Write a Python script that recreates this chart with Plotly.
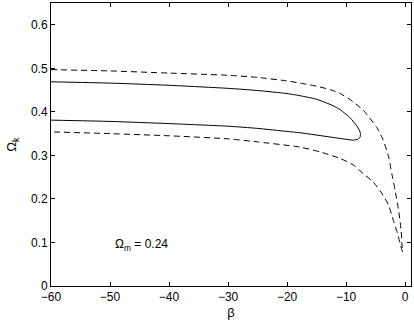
import plotly.graph_objects as go

# solid contour (closed), upper branch then back along lower branch
solid_beta = [-60, -50, -40, -30, -25, -20, -17.8, -15, -12.2, -11, -9.3, -8.2, -7.6,
              -7.6, -8.0, -8.75, -9.5, -12.1, -17.8, -20, -25, -30, -40, -50, -60]
solid_ok = [0.469, 0.466, 0.461, 0.454, 0.449, 0.442, 0.437, 0.429, 0.414, 0.405, 0.386, 0.368, 0.353,
            0.343, 0.337, 0.335, 0.336, 0.341, 0.352, 0.355, 0.362, 0.367, 0.373, 0.378, 0.381]

# dashed contour (open at the top end near beta=0)
dash_beta = [-60, -50, -40, -30, -25, -20, -17.8, -15, -12.7, -11, -9.3, -7.1, -4.8, -3.7,
             -2.8, -2.25, -1.7, -1.1, -0.68, -0.5, -0.42,
             -0.56, -0.85, -1.3, -2.0, -2.8, -3.95, -5.4, -7.1, -8.75, -11, -14.4,
             -17.8, -25, -30, -40, -50, -60]
dash_ok = [0.497, 0.494, 0.489, 0.484, 0.479, 0.471, 0.466, 0.459, 0.451, 0.442, 0.428, 0.404, 0.364, 0.335,
           0.297, 0.258, 0.220, 0.174, 0.128, 0.090, 0.078,
           0.083, 0.098, 0.121, 0.151, 0.186, 0.213, 0.239, 0.258, 0.278, 0.293, 0.308,
           0.319, 0.331, 0.338, 0.345, 0.350, 0.354]

x_ticks = [-60, -50, -40, -30, -20, -10, 0]
y_ticks = [0, 0.1, 0.2, 0.3, 0.4, 0.5, 0.6]

fig = go.Figure()
fig.add_trace(
    go.Scatter(
        x=dash_beta, y=dash_ok, mode="lines",
        line=dict(color="black", width=1, dash="6px,4px", shape="spline", smoothing=0.5),
    )
)
fig.add_trace(
    go.Scatter(
        x=solid_beta, y=solid_ok, mode="lines",
        line=dict(color="black", width=1, shape="spline", smoothing=0.5),
    )
)

fig.add_annotation(
    x=-44.7, y=0.094, text="Ω<sub>m</sub> = 0.24", showarrow=False,
    font=dict(size=12, color="black"),
)

axis_common = dict(
    showgrid=False, zeroline=False, showline=True, linecolor="black", linewidth=1,
    mirror="ticks", ticks="inside", ticklen=4, tickcolor="black",
    tickfont=dict(size=12, color="black"), automargin=False,
)
fig.update_xaxes(
    range=[-60, 1], tickvals=x_ticks, title=dict(text="β", standoff=4, font=dict(size=13)),
    **axis_common,
)
fig.update_yaxes(
    range=[0, 0.65], tickvals=y_ticks, title=dict(text="Ω<sub>k</sub>", standoff=11, font=dict(size=13)),
    **axis_common,
)
fig.update_layout(
    width=414, height=324,
    margin=dict(l=51, r=3, t=3, b=38),
    plot_bgcolor="white", paper_bgcolor="white",
    showlegend=False,
    font=dict(family="Liberation Sans, Arial, sans-serif", color="black"),
)
fig.write_html(
    "out.html",
    config={"displayModeBar": False},
    post_script="document.body.style.margin='0';",
)
